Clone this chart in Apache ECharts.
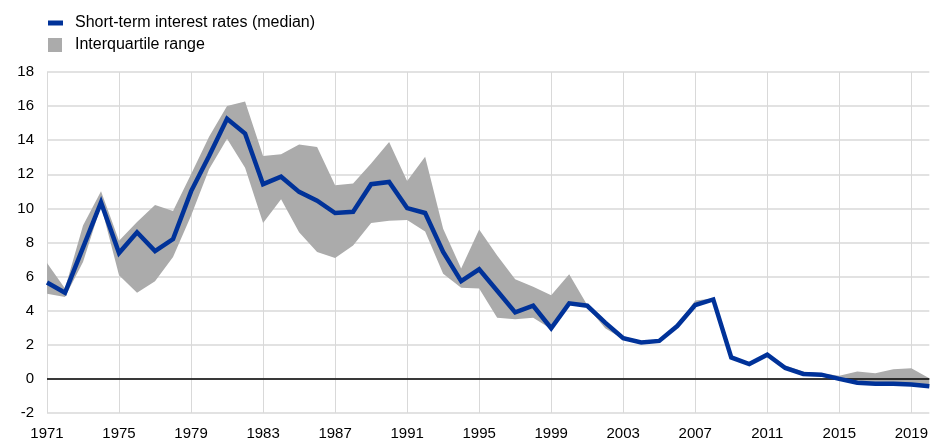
<!DOCTYPE html>
<html>
<head>
<meta charset="utf-8">
<script src="https://cdn.jsdelivr.net/npm/echarts@6/dist/echarts.min.js"></script>
<style>
html, body { margin: 0; padding: 0; background: #fff; }
#chart { width: 931px; height: 441px; }
</style>
</head>
<body>
<div id="chart"></div>
<script>
// Years on the horizontal axis
const years = [];
for (let y = 1971; y <= 2020; y++) years.push(String(y));

// Median short-term interest rate, % per year
const median = [
  5.65, 5.05, 7.7, 10.35, 7.38, 8.6, 7.5, 8.2, 11.0, 13.07,
  15.26, 14.39, 11.42, 11.86, 10.97, 10.45, 9.73, 9.8, 11.42, 11.55,
  10.02, 9.73, 7.44, 5.73, 6.43, 5.17, 3.9, 4.29, 2.97, 4.43,
  4.29, 3.3, 2.39, 2.14, 2.23, 3.1, 4.33, 4.66, 1.26, 0.87,
  1.42, 0.64, 0.29, 0.25, 0.0, -0.23, -0.29, -0.29, -0.33, -0.43
];

// Lower quartile
const q1 = [
  5.0, 4.8, 6.85, 10.15, 6.08, 5.05, 5.73, 7.15, 9.57, 12.3,
  14.08, 12.39, 9.15, 10.54, 8.6, 7.44, 7.09, 7.83, 9.15, 9.28,
  9.32, 8.64, 6.17, 5.34, 5.3, 3.59, 3.5, 3.59, 2.93, 4.33,
  4.23, 2.97, 2.33, 2.08, 2.17, 3.05, 4.27, 4.6, 1.2, 0.82,
  1.34, 0.56, 0.19, 0.17, -0.06, -0.29, -0.35, -0.35, -0.39, -0.49
];

// Upper quartile
const q3 = [
  6.8, 5.3, 9.0, 11.0, 8.1, 9.2, 10.2, 9.85, 12.0, 14.2,
  16.0, 16.27, 13.07, 13.17, 13.75, 13.6, 11.36, 11.46, 12.64, 13.9,
  11.61, 13.03, 8.8, 6.47, 8.76, 7.24, 5.84, 5.4, 4.91, 6.14,
  4.33, 3.36, 2.52, 2.17, 2.27, 3.17, 4.6, 4.72, 1.32, 0.91,
  1.5, 0.78, 0.43, 0.33, 0.19, 0.43, 0.33, 0.56, 0.62, 0.04
];

// Band thickness stacked on top of the lower quartile
const spread = q3.map((v, i) => +(v - q1[i]).toFixed(3));

const BLUE = '#003299';
const GREY = '#ababab';
const FONT = 'Liberation Sans, Arial, sans-serif';

const chart = echarts.init(document.getElementById('chart'), null, { renderer: 'canvas' });

chart.setOption({
  animation: false,
  backgroundColor: '#ffffff',
  textStyle: { fontFamily: FONT },
  legend: [
    {
      left: 43, top: 10,
      orient: 'vertical',
      itemWidth: 15, itemHeight: 5,
      icon: 'rect',
      itemGap: 0,
      data: ['Short-term interest rates (median)'],
      textStyle: { fontFamily: FONT, fontSize: 16, color: '#000', padding: [0, 0, 0, 7] }
    },
    {
      left: 43, top: 32,
      orient: 'vertical',
      itemWidth: 14, itemHeight: 14,
      icon: 'rect',
      data: ['Interquartile range'],
      textStyle: { fontFamily: FONT, fontSize: 16, color: '#000', padding: [0, 0, 0, 8] }
    }
  ],
  grid: { left: 47, right: 0, top: 72, bottom: 26, containLabel: false },
  xAxis: {
    type: 'category',
    data: years,
    boundaryGap: false,
    axisLine: { show: false },
    axisTick: { show: false },
    axisLabel: {
      interval: 3,
      fontFamily: FONT, fontSize: 15, color: '#000', margin: 13
    },
    splitLine: { show: true, interval: 3, lineStyle: { color: '#d9d9d9', width: 1 } }
  },
  yAxis: {
    type: 'value',
    min: -2, max: 18, interval: 2,
    axisLine: { show: false },
    axisTick: { show: false },
    axisLabel: { fontFamily: FONT, fontSize: 15, color: '#000', margin: 13 },
    splitLine: { lineStyle: { color: '#d9d9d9', width: 1.5 } }
  },
  series: [
    {
      name: 'lower',
      type: 'line',
      data: q1,
      stack: 'band',
      stackStrategy: 'all',
      symbol: 'none',
      lineStyle: { opacity: 0 },
      silent: true,
      z: 1
    },
    {
      name: 'Interquartile range',
      type: 'line',
      data: spread,
      stack: 'band',
      stackStrategy: 'all',
      symbol: 'none',
      color: GREY,
      lineStyle: { opacity: 0 },
      areaStyle: { color: GREY, opacity: 1 },
      silent: true,
      z: 2,
      markLine: {
        silent: true,
        symbol: 'none',
        label: { show: false },
        lineStyle: { color: '#000', width: 1.5, type: 'solid' },
        data: [{ yAxis: 0 }]
      }
    },
    {
      name: 'Short-term interest rates (median)',
      type: 'line',
      data: median,
      symbol: 'none',
      color: BLUE,
      lineStyle: { color: BLUE, width: 4.5, join: 'miter' },
      z: 5
    }
  ]
});
</script>
</body>
</html>
